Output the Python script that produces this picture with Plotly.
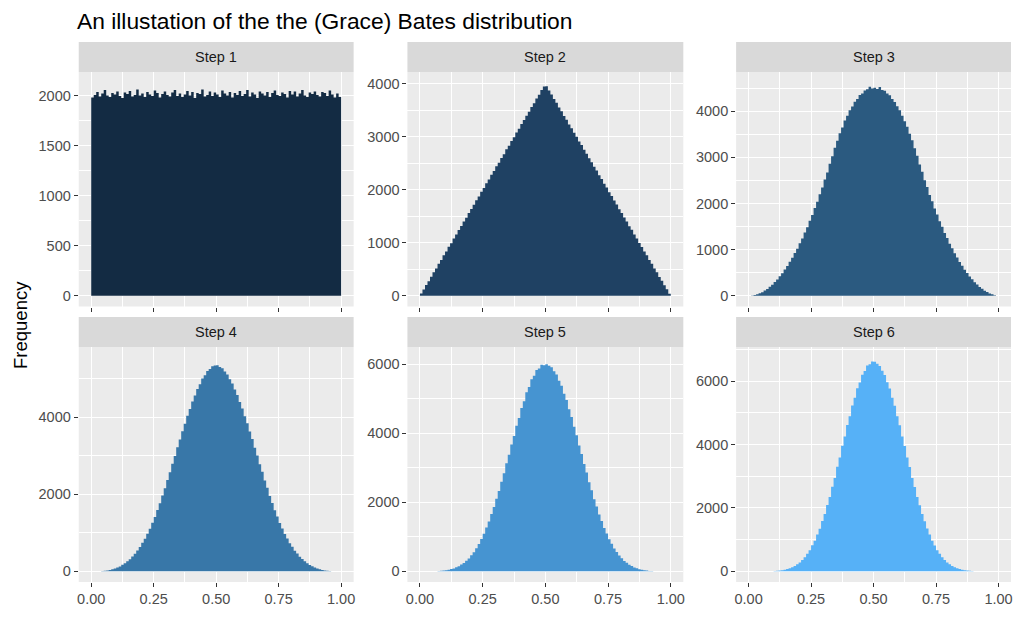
import numpy as np
import plotly.graph_objects as go

# === Bates histograms, counts (0.01-wide bins)
bin_edges = np.round(np.arange(101) * 0.01, 2)
step_names = ["Step 1", "Step 2", "Step 3", "Step 4", "Step 5", "Step 6"]
step_colors = ["#132B43", "#1F4163", "#2B5A80", "#3877A8", "#4694D1", "#56B1F7"]

step1 = [1985, 2010, 2040, 1995, 2025, 2060, 2005, 1990, 2030, 2015,
         2045, 2000, 1980, 2035, 2020, 2050, 1995, 2010, 2065, 2005,
         2025, 1990, 2040, 2015, 2000, 2055, 2030, 1985, 2020, 2045,
         2010, 1995, 2035, 2060, 2000, 2025, 1990, 2015, 2050, 2005,
         2040, 1980, 2030, 2020, 2065, 1995, 2010, 2045, 2000, 2035,
         2015, 1990, 2055, 2025, 2005, 2040, 1985, 2030, 2010, 2050,
         2000, 2020, 2060, 1995, 2035, 2015, 1980, 2045, 2025, 2005,
         2040, 1990, 2030, 2055, 2010, 2000, 2035, 2020, 1985, 2050,
         2015, 2045, 1995, 2025, 2060, 2005, 1990, 2035, 2020, 2045,
         2010, 1995, 2040, 2030, 2000, 2055, 2015, 1985, 2025, 1990]

step2 = [45, 118, 205, 278, 362, 445, 515, 604, 676, 765,
         838, 925, 995, 1085, 1158, 1242, 1318, 1405, 1475, 1566,
         1638, 1722, 1805, 1876, 1965, 2038, 2125, 2196, 2284, 2355,
         2446, 2515, 2604, 2675, 2768, 2836, 2925, 2994, 3086, 3155,
         3245, 3318, 3402, 3475, 3566, 3638, 3725, 3796, 3885, 3950,
         3955, 3878, 3802, 3716, 3645, 3558, 3484, 3395, 3325, 3236,
         3164, 3078, 3005, 2915, 2846, 2758, 2684, 2598, 2524, 2436,
         2365, 2275, 2206, 2118, 2045, 1956, 1884, 1798, 1725, 1636,
         1565, 1478, 1404, 1315, 1246, 1158, 1085, 996, 924, 838,
         765, 678, 604, 518, 446, 358, 284, 198, 124, 42]

step3 = [1, 6, 18, 32, 56, 80, 116, 150, 197, 242,
         300, 355, 425, 490, 570, 646, 738, 824, 928, 1022,
         1140, 1244, 1372, 1486, 1626, 1750, 1902, 2036, 2198, 2344,
         2520, 2672, 2860, 3022, 3210, 3358, 3524, 3648, 3795, 3898,
         4022, 4102, 4205, 4265, 4348, 4380, 4445, 4472, 4530, 4490,
         4505, 4480, 4525, 4458, 4440, 4384, 4345, 4265, 4200, 4105,
         4020, 3900, 3780, 3662, 3510, 3370, 3198, 3036, 2846, 2685,
         2505, 2356, 2186, 2048, 1890, 1762, 1615, 1496, 1360, 1254,
         1130, 1032, 920, 830, 732, 652, 564, 496, 418, 360,
         294, 247, 192, 155, 110, 84, 52, 35, 15, 2]

step4 = [0, 0, 1, 4, 8, 14, 24, 35, 53, 72,
         100, 128, 168, 208, 262, 316, 385, 455, 542, 630,
         738, 845, 975, 1104, 1258, 1412, 1590, 1765, 1965, 2155,
         2368, 2568, 2790, 2994, 3218, 3416, 3636, 3826, 4038, 4210,
         4405, 4558, 4730, 4855, 4998, 5088, 5196, 5250, 5318, 5340,
         5342, 5298, 5265, 5180, 5105, 4982, 4870, 4715, 4574, 4390,
         4225, 4022, 3840, 3625, 3430, 3204, 3005, 2778, 2580, 2358,
         2166, 1955, 1775, 1582, 1420, 1250, 1112, 968, 852, 730,
         636, 536, 460, 380, 320, 258, 212, 165, 132, 97,
         74, 51, 37, 22, 15, 7, 4, 1, 0, 0]

step5 = [0, 0, 0, 0, 1, 2, 5, 8, 14, 21,
         33, 44, 66, 84, 117, 148, 196, 241, 308, 374,
         463, 552, 671, 788, 938, 1084, 1266, 1442, 1657, 1859,
         2104, 2327, 2596, 2838, 3125, 3372, 3670, 3915, 4212, 4440,
         4725, 4925, 5182, 5338, 5556, 5662, 5826, 5874, 5982, 5968,
         5995, 5948, 5905, 5790, 5698, 5515, 5372, 5142, 4958, 4690,
         4470, 4184, 3940, 3645, 3398, 3104, 2858, 2575, 2346, 2086,
         1874, 1642, 1455, 1254, 1095, 927, 797, 662, 560, 455,
         380, 302, 246, 190, 152, 113, 87, 62, 46, 31,
         22, 13, 8, 5, 2, 1, 0, 0, 0, 0]

step6 = [0, 0, 0, 0, 0, 0, 1, 2, 4, 6,
         9, 17, 23, 36, 49, 72, 93, 131, 165, 222,
         278, 360, 441, 556, 668, 820, 966, 1162, 1346, 1586,
         1805, 2090, 2342, 2668, 2945, 3296, 3590, 3958, 4250, 4615,
         4890, 5232, 5472, 5774, 5955, 6204, 6318, 6490, 6530, 6620,
         6610, 6548, 6480, 6325, 6196, 5962, 5765, 5476, 5222, 4894,
         4605, 4255, 3950, 3592, 3290, 2948, 2662, 2344, 2085, 1808,
         1582, 1348, 1160, 968, 818, 667, 552, 440, 358, 276,
         224, 165, 130, 94, 71, 48, 36, 23, 17, 9,
         6, 3, 2, 1, 0, 0, 0, 0, 0, 0]

all_steps = [step1, step2, step3, step4, step5, step6]

# === Panel geometry (page pixels; the page body has an 8px margin)
OFF = 8
W, H = 1008, 624
col_px = [(77, 353), (407, 684), (737, 1013)]
row_px = [(72, 306.5), (347, 582)]
strip_px = [(42, 72), (317, 347)]
y_ranges = [[-108, 2240], [-201, 4226], [-231, 4848],
            [-277, 5818], [-309, 6493], [-337, 7077]]
y_dticks = [500, 1000, 1000, 2000, 2000, 2000]


def px(x):
    return (x - OFF) / W


def py(y):
    return 1 - (y - OFF) / H


FONT = "Liberation Sans, Arial, sans-serif"
TICKFONT = dict(family=FONT, size=14.5, color="#4d4d4d")

fig = go.Figure()
layout = {}
shapes = []
annotations = []

for i, (name, vals) in enumerate(zip(step_names, all_steps)):
    r, c = divmod(i, 3)
    n = "" if i == 0 else str(i + 1)
    fig.add_trace(go.Scatter(
        x=bin_edges, y=list(vals) + [vals[-1]], mode="lines", line_shape="hv",
        line=dict(width=0, color=step_colors[i]), fill="tozeroy",
        fillcolor=step_colors[i],
        xaxis="x" + n, yaxis="y" + n, showlegend=False, hoverinfo="skip",
    ))
    x0, x1 = col_px[c]
    y0, y1 = row_px[r]
    layout["xaxis" + n] = dict(
        domain=[px(x0), px(x1)], anchor="y" + n, range=[-0.05, 1.05],
        tickvals=[0, 0.25, 0.5, 0.75, 1],
        ticktext=["0.00", "0.25", "0.50", "0.75", "1.00"] if r == 1 else [""] * 5,
        ticks="outside", ticklen=4, tickwidth=1, tickcolor="#333333",
        showgrid=True, gridcolor="white", gridwidth=1.1,
        minor=dict(tickvals=[0.125, 0.375, 0.625, 0.875], showgrid=True,
                   gridcolor="white", gridwidth=0.5, ticks=""),
        zeroline=False, showline=False, fixedrange=True, tickfont=TICKFONT,
    )
    layout["yaxis" + n] = dict(
        domain=[py(y1), py(y0)], anchor="x" + n, range=y_ranges[i],
        dtick=y_dticks[i], tick0=0, ticks="outside", ticklen=4, tickwidth=1,
        tickcolor="#333333", showgrid=True, gridcolor="white", gridwidth=1.1,
        minor=dict(dtick=y_dticks[i] / 2, tick0=0, showgrid=True,
                   gridcolor="white", gridwidth=0.5, ticks=""),
        zeroline=False, showline=False, fixedrange=True, tickfont=TICKFONT,
    )
    # panel background
    shapes.append(dict(type="rect", xref="paper", yref="paper", layer="below",
                       x0=px(x0), x1=px(x1), y0=py(y1), y1=py(y0),
                       fillcolor="#EBEBEB", line=dict(width=0)))
    # strip
    s0, s1 = strip_px[r]
    shapes.append(dict(type="rect", xref="paper", yref="paper",
                       x0=px(x0), x1=px(x1), y0=py(s1), y1=py(s0),
                       fillcolor="#D9D9D9", line=dict(width=0)))
    annotations.append(dict(text=name, xref="paper", yref="paper",
                            x=px((x0 + x1) / 2), y=py((s0 + s1) / 2),
                            showarrow=False, xanchor="center", yanchor="middle",
                            font=dict(family=FONT, size=14.5, color="#1a1a1a")))

annotations.append(dict(text="An illustation of the the (Grace) Bates distribution",
                        xref="paper", yref="paper", x=px(73), y=py(21),
                        xanchor="left", yanchor="middle", showarrow=False,
                        font=dict(family=FONT, size=22.8, color="black")))
annotations.append(dict(text="Frequency", xref="paper", yref="paper",
                        x=px(18), y=py(325), textangle=-90,
                        xanchor="center", yanchor="middle", showarrow=False,
                        font=dict(family=FONT, size=18.5, color="black")))

fig.update_layout(
    width=W, height=H,
    margin=dict(l=0, r=0, t=0, b=0),
    paper_bgcolor="white", plot_bgcolor="rgba(0,0,0,0)",
    shapes=shapes, annotations=annotations,
    **layout,
)

fig.write_html("out.html")
